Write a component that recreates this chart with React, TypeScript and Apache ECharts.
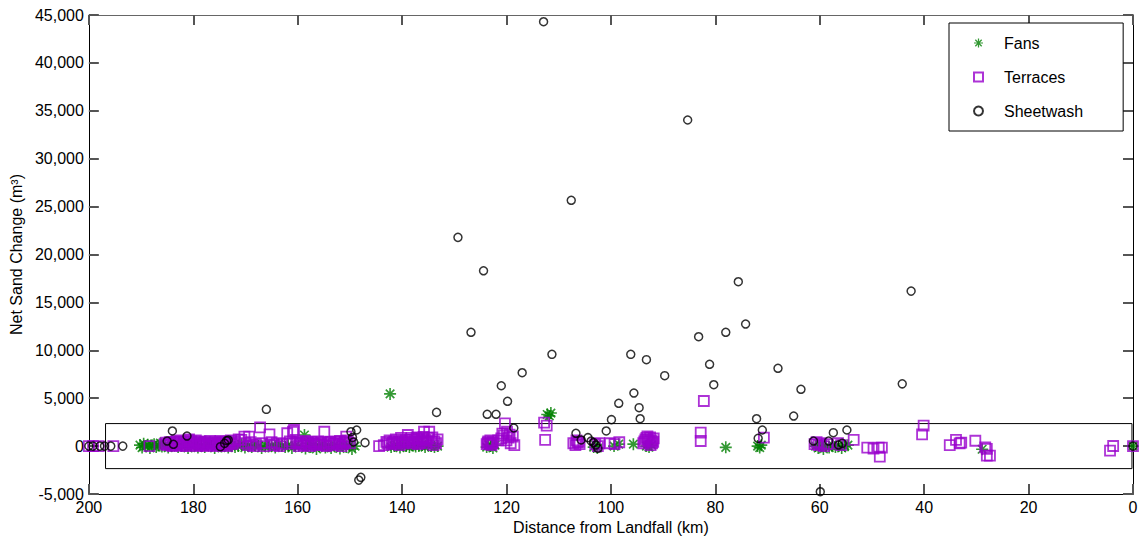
import React, { useEffect, useRef } from 'react';
import * as echarts from 'echarts';

// Distance from landfall (km), net sand change (m^3)
const fans: number[][] = [
  [190.2,100],[189.8,-150],[189.5,250],[189.1,0],[188.7,150],[188.3,-200],[187.9,80],[187.5,200],[187.1,-100],[186.7,50],[186.3,300],[186.0,-50],
  [185.4,100],[184.8,-150],[184.2,0],[183.5,200],[182.9,-100],[182.3,50],[181.6,150],[181.0,-200],[180.4,0],[179.7,100],[179.1,-150],[178.5,50],
  [177.8,-100],[177.2,150],[176.5,0],[175.9,-200],[175.3,100],[174.6,-50],[174.0,50],[173.3,-150],[172.7,100],[172.0,-100],[171.4,0],[170.7,200],
  [170.1,-150],[169.5,50],[168.8,-100],[168.2,150],[167.5,0],[166.9,-200],[166.2,100],[165.6,-50],[165.0,50],[164.3,-150],[163.7,200],[163.0,0],
  [162.4,-100],[161.8,100],[161.1,-200],[160.5,50],[159.8,0],
  [158.7,1160],[158.5,-250],[158.0,300],[157.5,-100],[157.0,100],[156.4,-300],[155.9,0],[155.3,200],[154.7,-150],[154.1,50],[153.6,-200],
  [153.0,100],[152.4,0],[151.9,-250],[151.3,150],[150.7,-100],[150.1,50],[149.6,-300],[149.0,0],
  [142.3,5450],[142.1,-100],[141.5,0],[141.0,100],[140.4,-150],[139.8,50],[139.2,0],[138.6,-100],[138.0,100],[137.4,-50],[136.8,0],[136.2,150],
  [135.6,-100],[135.0,50],[134.4,0],[133.8,-100],[133.2,0],
  [123.8,-100],[123.4,150],[123.0,0],[122.6,-200],[122.2,100],
  [112.2,3300],[111.8,3150],[111.5,3450],
  [103.3,-100],[102.9,100],[102.6,-200],
  [99.4,0],[98.5,200],[95.7,200],[93.2,0],[92.7,-100],[92.2,100],
  [78.0,-130],[71.9,0],[71.5,-150],[71.2,100],
  [60.8,0],[60.3,-200],[59.8,100],[59.3,-300],[58.8,0],[58.2,-150],[57.6,100],[57.0,-100],[56.4,50],[55.8,-200],[55.2,0],[54.6,100],
  [28.9,-330],[0,0],
];

const terraces: number[][] = [
  [200,0],[199.2,0],[198.1,0],[195.3,0],
  [188.4,0],
  [185.5,200],[185.0,100],[184.5,400],[184.0,0],[183.5,300],[183.0,100],[182.5,500],[182.0,200],[181.5,0],[181.0,600],[180.6,300],[180.2,100],
  [179.8,400],[179.3,0],[178.9,200],[178.4,100],[178.0,300],[177.5,0],[177.0,200],[176.5,100],[176.0,300],[175.5,0],[175.0,150],[174.5,400],
  [174.0,100],[173.5,0],[173.0,300],[172.5,200],[172.0,500],
  [185.2,350],[184.7,250],[184.2,150],[183.7,450],[183.2,600],[182.7,350],[182.2,50],[181.7,450],[181.2,250],[180.8,700],[180.4,500],
  [179.9,250],[179.5,600],[179.0,350],[178.6,500],[178.1,150],[177.7,450],[177.2,350],[176.8,550],[176.3,250],[175.8,450],[175.3,300],
  [174.8,550],[174.3,250],[173.8,450],[173.3,200],[172.8,600],[172.3,350],
  [171.3,700],[170.8,640],[170.2,980],[169.3,980],[170.0,300],[169.5,100],[169.0,400],[168.5,0],[168.0,200],[167.2,1960],[166.8,300],[166.3,0],
  [165.4,1230],[165.0,400],[164.5,100],[164.0,300],[163.5,0],[163.0,200],[162.0,1340],[161.5,500],[160.9,1500],[160.7,1680],[160.3,300],[159.8,0],
  [159.3,200],[158.8,100],[158.2,400],[157.6,0],[157.0,300],[156.4,100],[155.8,200],[154.9,1500],[154.5,0],[154.0,300],[153.4,100],[152.8,500],
  [152.2,200],[151.6,0],[151.0,400],[150.7,980],[150.4,600],[150.0,300],
  [161.0,250],[160.0,450],[159.5,350],[158.5,550],[157.9,200],[157.3,450],[156.7,250],[156.1,500],[155.5,350],[155.0,100],[153.7,450],
  [153.1,250],[152.5,350],[151.9,550],[151.3,200],[150.9,450],
  [144.4,0],[143.5,100],[142.8,300],[142.0,200],[141.5,500],[141.0,300],[140.5,100],[140.0,600],[139.5,400],[138.9,1160],[138.5,700],[138.0,300],
  [137.5,500],[137.0,200],[136.5,400],[136.0,600],[135.8,1500],[135.3,300],[134.8,1500],[134.4,500],[134.0,100],[133.5,300],[133.2,700],[137.2,900],[136.2,800],
  [143.0,450],[142.4,600],[141.8,350],[141.2,700],[140.7,450],[140.2,850],[139.7,250],[139.2,650],[138.7,450],[138.2,850],[137.7,650],
  [137.0,750],[136.7,350],[135.9,950],[135.5,650],[134.9,850],[134.2,900],[133.8,500],
  [123.8,200],[123.5,500],[123.2,300],[122.9,100],[122.6,400],[123.6,350],[123.1,600],[122.8,250],
  [121.0,800],[120.8,1300],[120.5,1100],[120.3,2380],[120.0,600],[119.6,900],[119.2,300],[118.8,1000],[118.5,100],
  [121.6,600],[119.9,1500],[119.4,1200],
  [112.8,2440],[112.3,2130],[112.6,640],
  [107.2,300],[106.8,100],[106.4,400],[106.0,200],[106.6,600],[106.2,450],
  [103.0,200],[102.5,0],[102.2,300],
  [100.2,300],[99.3,200],[98.4,400],
  [93.8,300],[93.4,700],[93.0,1000],[92.7,500],[92.4,100],[92.1,300],[91.8,800],
  [93.6,500],[93.2,850],[92.9,650],[92.5,900],[92.2,600],[91.9,450],
  [82.2,4710],[82.8,1400],[82.8,530],
  [70.7,880],
  [61.0,200],[60.6,400],[60.2,100],[59.7,300],[59.2,0],[58.6,200],
  [56.5,300],[55.9,100],
  [53.5,640],
  [50.9,-150],[49.7,-250],[48.7,-150],[48.1,-150],[48.5,-1100],
  [40.1,2130],[40.4,1230],
  [35.1,110],[33.9,640],[33.2,290],[32.9,360],
  [30.2,560],
  [28.3,-130],[28.0,-1000],[27.4,-1000],[28.0,-300],
  [4.4,-480],[3.8,10],
  [0,0],
];

const sheetwash: number[][] = [
  [200,0],[199.2,0],[197.9,0],[197.0,0],[195.8,0],[193.5,0],
  [184.0,1580],[185.0,530],[183.8,190],[181.2,1050],[174.8,-60],[174.0,290],[173.6,560],[173.3,640],
  [166.0,3840],
  [149.8,1500],[148.7,1680],[149.5,900],[149.3,430],[147.1,360],[147.9,-3260],[148.3,-3550],
  [133.4,3520],
  [129.3,21790],[126.8,11880],[124.4,18300],[123.7,3320],[122.0,3320],[121.0,6300],[119.8,4680],[118.6,1890],[117.0,7660],
  [112.9,44300],[111.3,9580],[107.6,25660],[106.7,1340],[105.7,640],[104.4,880],[103.8,530],[103.3,360],[102.9,110],[102.5,-230],
  [100.9,1580],[99.9,2760],[98.5,4470],[96.2,9580],[95.6,5540],[94.6,4010],[94.4,2860],[93.2,9020],[89.7,7350],
  [85.3,34040],[83.2,11420],[81.1,8540],[80.3,6410],[78.0,11880],[75.6,17160],[74.2,12740],
  [72.1,2860],[71.8,810],[71.0,1680],[68.0,8120],[65.0,3140],[63.6,5930],
  [61.2,530],[59.9,-4760],[58.3,530],[57.4,1400],[56.4,110],[55.7,290],[54.8,1680],
  [44.2,6500],[42.5,16180],
  [0,0],
];

// Highlight box (km range, value range)
const boxKm = [196.8, 0.2];
const boxValue = [-2350, 2350];

const xRange = { min: 0, max: 200, interval: 20 };
const yRange = { min: -5000, max: 45000, interval: 5000 };

const FONT = '"Liberation Sans", Arial, Helvetica, sans-serif';
const GREEN = '#008000';
const PURPLE = '#9900CC';
const TICK = '#555';
const ASTERISK =
  'path://M10.5 1L13.5 1L13.5 23L10.5 23Z M1 10.5L23 10.5L23 13.5L1 13.5Z M5.3 3.1L20.9 18.7L18.7 20.9L3.1 5.3Z M3.1 18.7L18.7 3.1L20.9 5.3L5.3 20.9Z';

export default function App() {
  const ref = useRef<HTMLDivElement>(null);
  useEffect(() => {
    if (!ref.current) return;
    const chart = echarts.init(ref.current, undefined, { renderer: 'svg' });
    const mkTick = () => ({ show: true, inside: true, length: 10, lineStyle: { color: TICK, width: 2 } });
    chart.setOption({
      animation: false,
      grid: { left: 87, right: 10, top: 15, bottom: 48 },
      legend: {
        data: ['Fans', 'Terraces', 'Sheetwash'],
        orient: 'vertical',
        left: 949,
        top: 23,
        padding: [10, 40, 10, 24],
        itemWidth: 9,
        itemHeight: 9,
        itemGap: 14,
        borderColor: '#000',
        borderWidth: 1,
        backgroundColor: '#fff',
        selectedMode: false,
        textStyle: { fontSize: 16, fontFamily: FONT, color: '#000', lineHeight: 20, padding: [0, 0, 0, 16] },
      },
      xAxis: [
        {
          type: 'value', ...xRange, inverse: true,
          name: 'Distance from Landfall (km)', nameLocation: 'middle', nameGap: 22,
          nameTextStyle: { fontSize: 16, fontFamily: FONT, color: '#000' },
          axisLine: { onZero: false, lineStyle: { color: '#000', width: 1 } },
          axisTick: mkTick(),
          axisLabel: { fontSize: 16, fontFamily: FONT, color: '#000', margin: 5 },
          splitLine: { show: false },
        },
        {
          type: 'value', ...xRange, inverse: true, position: 'top',
          axisLine: { onZero: false, lineStyle: { color: '#666', width: 1 } },
          axisTick: mkTick(), axisLabel: { show: false }, splitLine: { show: false },
        },
      ],
      yAxis: [
        {
          type: 'value', ...yRange,
          name: 'Net Sand Change (m³)', nameLocation: 'middle', nameGap: 62,
          nameTextStyle: { fontSize: 16, fontFamily: FONT, color: '#000' },
          axisLine: { show: true, onZero: false, lineStyle: { color: '#000', width: 1 } },
          axisTick: mkTick(),
          axisLabel: {
            fontSize: 16, fontFamily: FONT, color: '#000', margin: 5,
            formatter: (v: number) => v.toLocaleString('en-US'),
          },
          splitLine: { show: false },
        },
        {
          type: 'value', ...yRange, position: 'right',
          axisLine: { show: true, onZero: false, lineStyle: { color: '#000', width: 1 } },
          axisTick: mkTick(), axisLabel: { show: false }, splitLine: { show: false },
        },
      ],
      series: [
        {
          name: 'Fans', type: 'scatter', data: fans, symbol: ASTERISK, symbolSize: 12,
          itemStyle: { color: GREEN, borderWidth: 0 },
          markArea: {
            silent: true,
            itemStyle: { color: 'rgba(0,0,0,0)', borderColor: '#000', borderWidth: 1 },
            data: [[{ coord: [boxKm[0], boxValue[1]] }, { coord: [boxKm[1], boxValue[0]] }]],
          },
        },
        {
          name: 'Terraces', type: 'scatter', data: terraces, symbol: 'rect', symbolSize: 10,
          itemStyle: { color: 'rgba(0,0,0,0)', borderColor: PURPLE, borderWidth: 1.8 },
        },
        {
          name: 'Sheetwash', type: 'scatter', data: sheetwash, symbol: 'circle', symbolSize: 8,
          itemStyle: { color: 'rgba(0,0,0,0)', borderColor: '#000', borderWidth: 1.5 },
        },
      ],
    });
    return () => chart.dispose();
  }, []);
  return (
    <div
      ref={ref}
      style={{ position: 'fixed', left: 0, top: 0, width: 1143, height: 542, background: '#fff' }}
    />
  );
}
